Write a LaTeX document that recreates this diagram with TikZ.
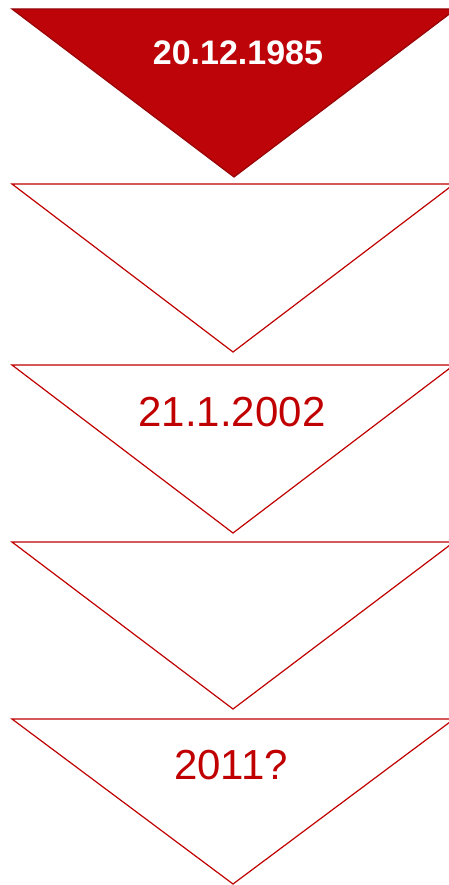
\documentclass[tikz,border=0pt]{standalone}
\usepackage{fontspec}
\setmainfont{Liberation Sans}
\usetikzlibrary{positioning}
\definecolor{datered}{HTML}{C00000}
\definecolor{firstred}{HTML}{BD0509}

\begin{document}
\begin{tikzpicture}[x=1pt, y=-1pt, line width=1.2pt]
  \useasboundingbox (0,0) rectangle (448,885);

  \filldraw[fill=firstred, draw=firstred!80!black] (12,9) -- (456,9) -- (234,177) -- cycle;
  \foreach \t/\b in {184/352, 365/533, 542/709, 719/884} {
    \draw[datered] (12,\t) -- (454,\t) -- (233,\b) -- cycle;
  }

  \node[text=white, font=\bfseries\fontsize{34}{40}\selectfont] (first) at (238,53) {20.12.1985};
  \node[text=datered, font=\fontsize{42}{50}\selectfont] (second) at (232,412) {21.1.2002};
  \node[text=datered, font=\fontsize{42}{50}\selectfont] (third) at (231,765) {2011?};
\end{tikzpicture}
\end{document}
